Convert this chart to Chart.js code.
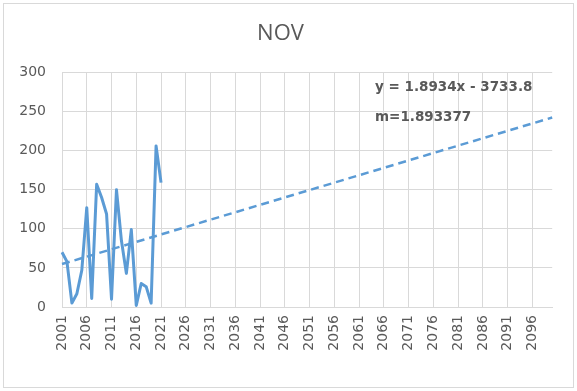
<!DOCTYPE html>
<html>
<head>
<meta charset="utf-8">
<script src="https://cdn.jsdelivr.net/npm/chart.js@4"></script>
<style>
  html, body { margin: 0; padding: 0; background: #fff; }
  #wrap { width: 577px; height: 391px; }
</style>
</head>
<body>
<div id="wrap"><canvas id="nov-chart" width="577" height="391"></canvas></div>
<script>
// category labels 2001..2100, one per year
const years = [];
for (let y = 2001; y <= 2100; y++) years.push(String(y));

// observed November values, 2001-2021
const novValues = [70, 58, 5, 17, 47, 127, 11, 157, 140, 119, 10, 150, 85, 43, 99, 2, 30, 26, 5, 206, 159];

// linear trend end points (2001 and 2100)
const trendStart = 54.9;
const trendEnd = 242.3;

const equationText = 'y = 1.8934x - 3733.8';
const slopeText = 'm=1.893377';

const yTicks = [0, 50, 100, 150, 200, 250, 300];

const grey = '#595959';
const gridGrey = '#d9d9d9';
const blue = '#5b9bd5';

const trendData = years.map(() => null);
trendData[0] = trendStart;
trendData[trendData.length - 1] = trendEnd;

const frame = {
    id: 'frame',
    beforeDraw(chart) {
        const ctx = chart.ctx;
        ctx.save();
        ctx.fillStyle = '#fff';
        ctx.fillRect(0, 0, chart.width, chart.height);
        ctx.strokeStyle = gridGrey;
        ctx.lineWidth = 1;
        ctx.strokeRect(3.5, 3.5, chart.width - 7, chart.height - 7);
        ctx.restore();
    },
    afterDraw(chart) {
        const ctx = chart.ctx;
        ctx.save();
        ctx.fillStyle = grey;
        ctx.font = 'bold 13.5px "DejaVu Sans"';
        ctx.textBaseline = 'middle';
        ctx.textAlign = 'left';
        ctx.fillText(equationText, 375, 87);
        ctx.fillText(slopeText, 375, 117);
        ctx.restore();
    }
};

const ctx = document.getElementById('nov-chart').getContext('2d');
const chart = new Chart(ctx, {
    type: 'line',
    data: {
        labels: years,
        datasets: [{
            label: 'NOV',
            data: novValues,
            borderColor: blue,
            borderWidth: 3,
            pointRadius: 0,
            tension: 0,
            borderJoinStyle: 'round'
        }, {
            label: 'Linear (NOV)',
            data: trendData,
            spanGaps: true,
            borderColor: blue,
            borderWidth: 2.5,
            borderDash: [8, 5],
            pointRadius: 0
        }]
    },
    options: {
        responsive: false,
        animation: false,
        layout: { padding: { left: 8, right: 24, top: 0, bottom: 0 } },
        plugins: {
            legend: { display: false },
            tooltip: { enabled: false },
            title: {
                display: true,
                text: 'NOV',
                color: grey,
                font: { family: 'Open Sans', size: 22, weight: 'normal' },
                padding: { top: 21, bottom: 25 }
            }
        },
        scales: {
            x: {
                offset: false,
                grid: {
                    color: c => (c.index % 5 === 0 ? gridGrey : 'rgba(0,0,0,0)'),
                    drawTicks: false
                },
                border: { color: gridGrey },
                ticks: {
                    autoSkip: false,
                    minRotation: 90,
                    maxRotation: 90,
                    padding: 8,
                    color: grey,
                    font: { family: 'DejaVu Sans', size: 14 },
                    callback: (v, i) => (i % 5 === 0 ? years[i] : '')
                },
                afterFit: s => { s.height = 84; }
            },
            y: {
                min: 0,
                max: 300,
                afterBuildTicks: s => { s.ticks = yTicks.map(v => ({ value: v })); },
                grid: { color: gridGrey, drawTicks: false },
                border: { display: false },
                ticks: {
                    padding: 16,
                    color: grey,
                    font: { family: 'DejaVu Sans', size: 14 }
                },
                afterFit: s => { s.width = 54; }
            }
        }
    },
    plugins: [frame]
});
</script>
</body>
</html>
